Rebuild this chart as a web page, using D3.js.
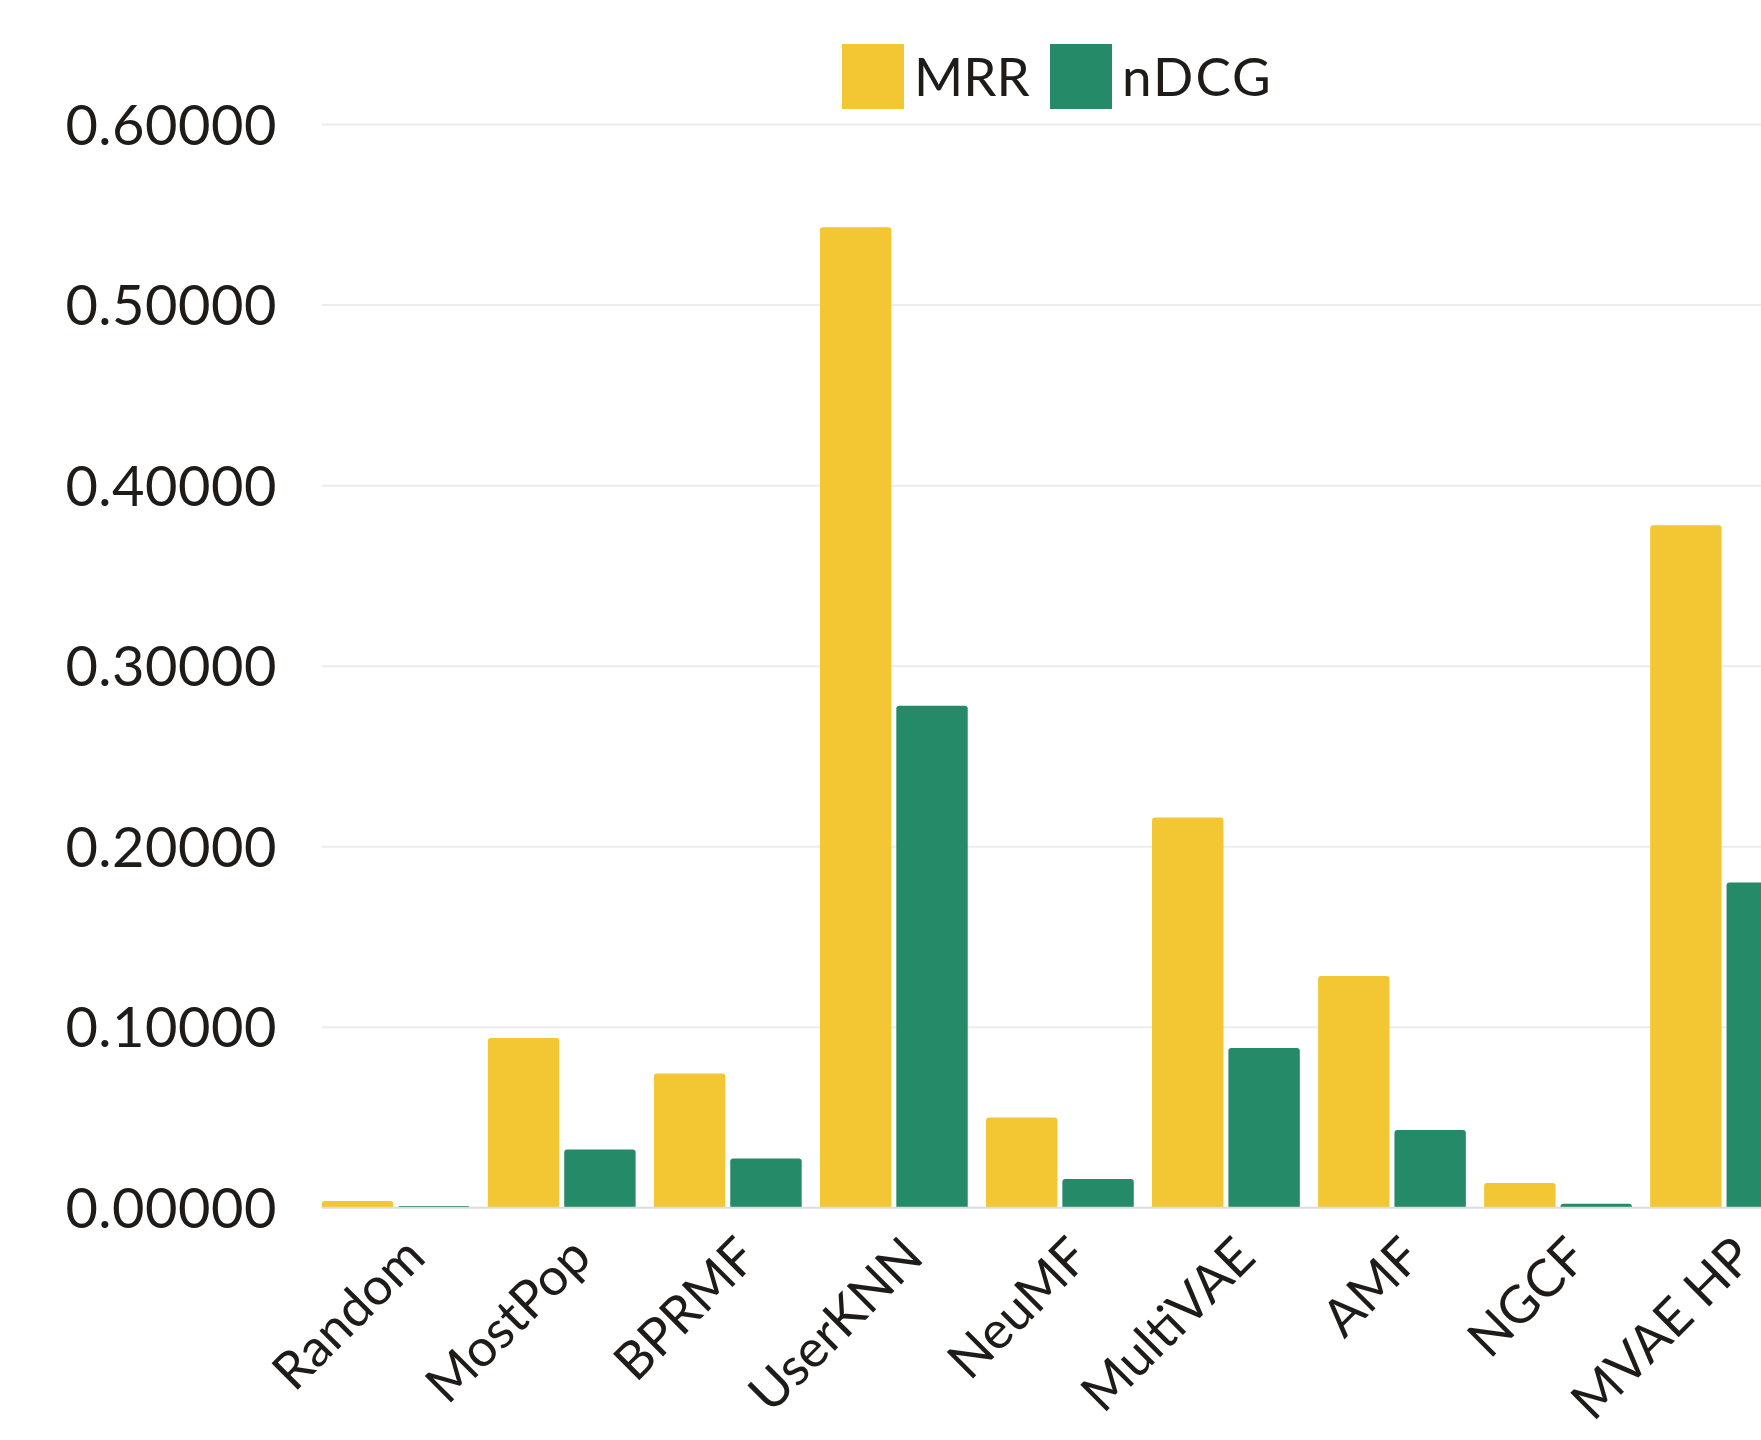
<!DOCTYPE html>
<meta charset="utf-8">
<script src="https://d3js.org/d3.v7.min.js"></script>
<head>
<style>
  body { margin: 0; background: #fff; }
  svg { display: block; }
  text { font-family: Lato, "Open Sans", sans-serif; fill: #1e1b18; }
  .grid line { stroke: #ececec; stroke-width: 2; }
</style>
</head>
<body>
<div id="viz"></div>
<script>

// data
const models = ["Random", "MostPop", "BPRMF", "UserKNN", "NeuMF", "MultiVAE", "AMF", "NGCF", "MVAE HP"];
const metrics = ["MRR", "nDCG"];
const mrr  = [0.0037, 0.0940, 0.0743, 0.5432, 0.0499, 0.2162, 0.1284, 0.0137, 0.3780];
const ndcg = [0.0009, 0.0322, 0.0272, 0.2781, 0.0159, 0.0884, 0.0431, 0.0022, 0.1802];
const yTicks = [0, 0.1, 0.2, 0.3, 0.4, 0.5, 0.6];
const colors = ["#f2c733", "#258a68"];

const W = 1761, H = 1440;
const plotLeft = 321.8, plotTop = 124.6, zeroY = 1207.7;

const rows = models.map((m, i) => ({ model: m, MRR: mrr[i], nDCG: ndcg[i] }));

const svg = d3.select("#viz")
  .append("svg")
    .attr("width", W)
    .attr("height", H);

const y = d3.scaleLinear()
  .domain([0, 0.6])
  .range([zeroY, plotTop]);

// groups run off the right edge of the picture, like in the original
const x = d3.scaleBand()
  .domain(models)
  .range([plotLeft, plotLeft + 166.05 * models.length - 18.3])
  .paddingInner(0.11)
  .paddingOuter(0);

const xSub = d3.scaleBand()
  .domain(metrics)
  .range([0, x.bandwidth()])
  .paddingInner(0.065);

const color = d3.scaleOrdinal().domain(metrics).range(colors);

// gridlines
svg.append("g")
  .attr("class", "grid")
  .selectAll("line")
  .data(yTicks.slice(1))
  .join("line")
    .attr("x1", plotLeft)
    .attr("x2", W)
    .attr("y1", d => y(d))
    .attr("y2", d => y(d));

// y labels
svg.append("g")
  .selectAll("text")
  .data(yTicks)
  .join("text")
    .attr("x", 277)
    .attr("y", d => y(d))
    .attr("dy", "0.36em")
    .attr("text-anchor", "end")
    .style("font-size", "56px")
    .style("letter-spacing", "0.5px")
    .text(d => d3.format(".5f")(d));

// bars, rounded top corners only
function barPath(x0, w, yTop, yBot, r) {
  r = Math.min(r, (yBot - yTop), w / 2);
  return `M${x0},${yBot}V${yTop + r}Q${x0},${yTop} ${x0 + r},${yTop}H${x0 + w - r}Q${x0 + w},${yTop} ${x0 + w},${yTop + r}V${yBot}Z`;
}

svg.append("g")
  .selectAll("g")
  .data(rows)
  .join("g")
    .attr("transform", d => `translate(${x(d.model)},0)`)
  .selectAll("path")
  .data(d => metrics.map(k => ({ key: k, value: d[k] })))
  .join("path")
    .attr("fill", d => color(d.key))
    .attr("d", d => barPath(xSub(d.key), xSub.bandwidth(), y(d.value), y(0), 3));

// baseline
svg.append("line")
  .attr("x1", plotLeft)
  .attr("x2", W)
  .attr("y1", y(0))
  .attr("y2", y(0))
  .attr("stroke", "#dcdcdc")
  .attr("stroke-width", 2);

// x labels, rotated
svg.append("g")
  .selectAll("text")
  .data(models)
  .join("text")
    .attr("transform", d => `translate(${x(d) + x.bandwidth() / 2 + 32},${y(0) + 52}) rotate(-45)`)
    .attr("text-anchor", "end")
    .style("font-size", "52px")
    .text(d => d);

// legend
const legend = svg.append("g").attr("class", "legend");
const legendPos = [{ sx: 842, tx: 914 }, { sx: 1050, tx: 1122 }];
metrics.forEach((k, i) => {
  legend.append("rect")
    .attr("x", legendPos[i].sx)
    .attr("y", 44)
    .attr("width", 62)
    .attr("height", 65)
    .attr("fill", color(k));
  legend.append("text")
    .attr("x", legendPos[i].tx)
    .attr("y", 96)
    .style("font-size", "53px")
    .style("letter-spacing", i === 1 ? "2px" : "0px")
    .text(k);
});

</script>
</body>
